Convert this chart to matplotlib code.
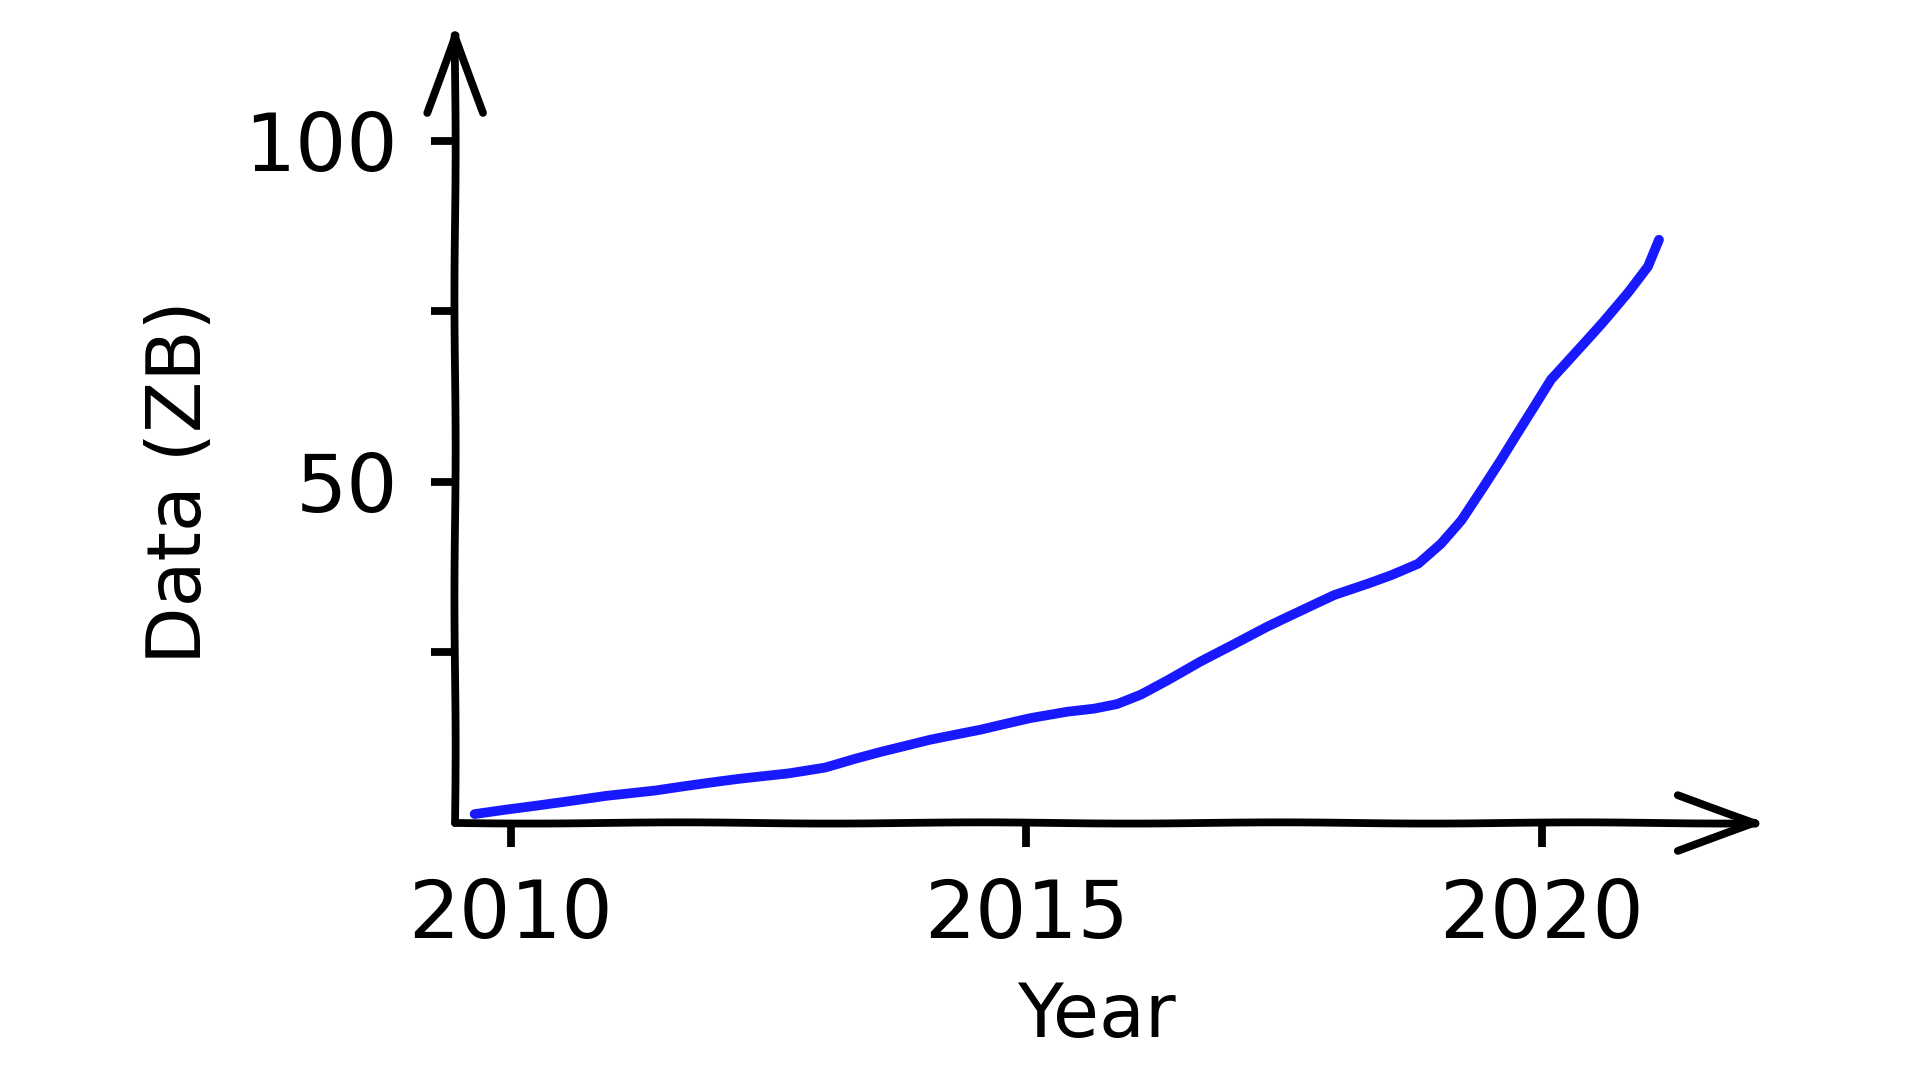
import matplotlib
matplotlib.use('Agg')
import matplotlib.pyplot as plt

# Values (curve traced along its centre)
years = [2009.65, 2009.95, 2010.43, 2010.92, 2011.40, 2011.73, 2012.21, 2012.70,
         2013.05, 2013.34, 2013.59, 2014.07, 2014.56, 2015.04, 2015.40, 2015.66,
         2015.88, 2016.11, 2016.37, 2016.69, 2017.02, 2017.34, 2017.66, 2017.99,
         2018.31, 2018.54, 2018.80, 2019.02, 2019.22, 2019.44, 2019.61, 2019.77,
         2019.93, 2020.09, 2020.32, 2020.58, 2020.84, 2021.03, 2021.14]
data_zb = [1.3, 2.0, 3.0, 4.0, 4.7, 5.4, 6.4, 7.3,
           8.2, 9.5, 10.5, 12.2, 13.6, 15.3, 16.3, 16.8,
           17.5, 18.9, 21.0, 23.7, 26.2, 28.7, 31.0, 33.4,
           35.1, 36.4, 38.1, 41.0, 44.4, 49.3, 53.2, 57.1,
           61.0, 65.0, 68.9, 73.3, 77.9, 81.6, 85.5]
xtick_values = [2010, 2015, 2020]
xtick_labels = ['2010', '2015', '2020']
ytick_values = [25, 50, 75, 100]
ytick_labels = ['', '50', '', '100']
x_label = 'Year'
y_label = 'Data (ZB)'

with plt.xkcd(scale=0.6, length=300, randomness=1):
    plt.rcParams['font.family'] = ['DejaVu Sans']
    plt.rcParams['path.effects'] = []
    fig = plt.figure(figsize=(19.2, 10.8), dpi=100)
    ax = fig.add_axes([0.237, 0.238, 0.668, 0.6315])
    ax.plot(years, data_zb, color='blue', alpha=0.9, lw=7,
            solid_capstyle='round', solid_joinstyle='round')
    ax.set_xlim(2009.46, 2021.9)
    ax.set_ylim(0, 100)
    for s in ax.spines.values():
        s.set_visible(False)

    arrow_kw = dict(arrowstyle='->,head_length=2.8,head_width=1.0', lw=5.6,
                    color='black', shrinkA=0, shrinkB=0, mutation_scale=20,
                    capstyle='round')
    ax.annotate('', xy=(0, 1.172), xytext=(0, 0), xycoords='axes fraction',
                textcoords='axes fraction', arrowprops=arrow_kw, annotation_clip=False)
    ax.annotate('', xy=(1.023, 0), xytext=(0, 0), xycoords='axes fraction',
                textcoords='axes fraction', arrowprops=arrow_kw, annotation_clip=False)

    ax.set_xticks(xtick_values, xtick_labels)
    ax.set_yticks(ytick_values, ytick_labels)
    ax.tick_params(direction='out', length=17, width=5.6, labelsize=58, color='black')
    ax.tick_params(axis='x', pad=22)
    ax.tick_params(axis='y', pad=24)
    ax.set_xlabel(x_label, fontsize=54, labelpad=18)
    ax.set_ylabel(y_label, fontsize=54, labelpad=20)

    fig.savefig('out.png', dpi=100, facecolor='white')
